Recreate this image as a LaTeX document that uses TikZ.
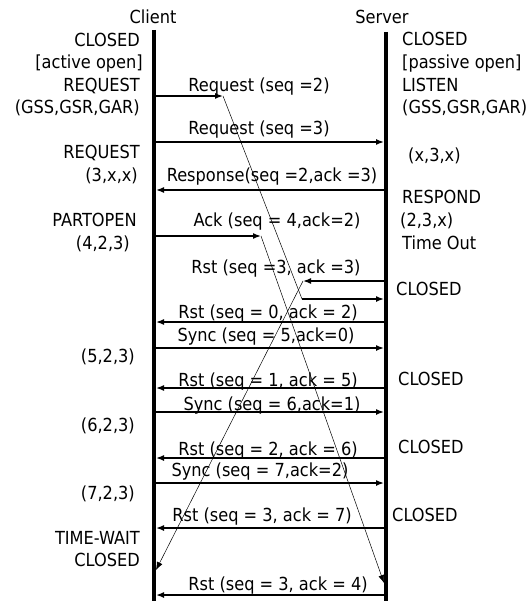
\documentclass[tikz,border=0pt]{standalone}
\usepackage{fontspec}
\setmainfont{DejaVu Sans Condensed}
\usetikzlibrary{arrows.meta}
\begin{document}
\begin{tikzpicture}[x=1pt,y=-1pt,font=\fontsize{18}{22}\selectfont,
  life/.style={line width=4pt},
  msg/.style={line width=1.5pt,-{Latex[length=8pt,width=6pt]}},
  late/.style={line width=0.5pt},
  latearr/.style={line width=0.5pt,-{Latex[length=8pt,width=6pt]}},
  lst/.style={anchor=base east,inner sep=0pt},
  rst/.style={anchor=base west,inner sep=0pt},
  ml/.style={anchor=base,inner sep=0pt}]
\useasboundingbox (0,0) rectangle (530,601);
% titles
\node[ml] (client) at (153,23.5) {Client};
\node[ml] (server) at (382,23.5) {Server};
% lifelines
\coordinate (ctop) at (154,30);
\coordinate (cbot) at (154,603);
\coordinate (stop) at (386,32);
\coordinate (sbot) at (386,603);
\draw[life] (ctop) -- (cbot);
\draw[life] (stop) -- (sbot);
% client states
\node[lst] (l1) at (140,46.5) {CLOSED};
\node[lst] (l2) at (143,69) {[active open]};
\node[lst] (l3) at (140,91.7) {REQUEST};
\node[lst] (l4) at (140,114) {(GSS,GSR,GAR)};
\node[lst] (l5) at (140,158.3) {REQUEST};
\node[lst] (l6) at (138,181.7) {(3,x,x)};
\node[lst] (l7) at (137,226.7) {PARTOPEN};
\node[lst] (l8) at (130,249) {(4,2,3)};
\node[lst] (l9) at (135,362.7) {(5,2,3)};
\node[lst] (l10) at (135,431.7) {(6,2,3)};
\node[lst] (l11) at (135,499) {(7,2,3)};
\node[lst] (l12) at (140,544) {TIME-WAIT};
\node[lst] (l13) at (140,566.7) {CLOSED};
% server states
\node[rst] (r1) at (402,45.7) {CLOSED};
\node[rst] (r2) at (402,68.5) {[passive open]};
\node[rst] (r3) at (402,91.7) {LISTEN};
\node[rst] (r4) at (402,114) {(GSS,GSR,GAR)};
\node[rst] (r5) at (408,161.7) {(x,3,x)};
\node[rst] (r6) at (402,204) {RESPOND};
\node[rst] (r7) at (400,226.7) {(2,3,x)};
\node[rst] (r8) at (402,249.3) {Time Out};
\node[rst] (r9) at (396,295) {CLOSED};
\node[rst] (r10) at (398,385) {CLOSED};
\node[rst] (r11) at (398,453.3) {CLOSED};
\node[rst] (r12) at (392,521.7) {CLOSED};
% message end points
\coordinate (c96) at (156,96);   \coordinate (k96) at (223,96);
\coordinate (c142) at (156,142); \coordinate (s142) at (384,142);
\coordinate (c190) at (156,190); \coordinate (s190) at (384,190);
\coordinate (c236) at (156,236); \coordinate (k236) at (261,236);
\coordinate (s281) at (384,281); \coordinate (k281) at (303,281);
\coordinate (k299) at (302,299); \coordinate (s299) at (384,299);
\coordinate (c322) at (156,322); \coordinate (s322) at (384,322);
\coordinate (c348) at (156,348); \coordinate (s348) at (384,348);
\coordinate (c388) at (156,388); \coordinate (s388) at (384,388);
\coordinate (c412) at (156,412); \coordinate (s412) at (384,412);
\coordinate (c458) at (156,458); \coordinate (s458) at (384,458);
\coordinate (c483) at (156,483); \coordinate (s483) at (384,483);
\coordinate (c528) at (156,528); \coordinate (s528) at (384,528);
\coordinate (c570) at (156,570);
\coordinate (s583) at (384,583);
\coordinate (c595) at (156,595); \coordinate (s595) at (384,595);
% messages
\draw[msg] (c96) -- (k96);
\draw[msg] (c142) -- (s142);
\draw[msg] (s190) -- (c190);
\draw[msg] (c236) -- (k236);
\draw[msg] (s281) -- (k281);
\draw[late] (k96) -- (k299);
\draw[msg] (k299) -- (s299);
\draw[latearr] (k236) -- (s583);
\draw[latearr] (k281) -- (c570);
\draw[msg] (s322) -- (c322);
\draw[msg] (c348) -- (s348);
\draw[msg] (s388) -- (c388);
\draw[msg] (c412) -- (s412);
\draw[msg] (s458) -- (c458);
\draw[msg] (c483) -- (s483);
\draw[msg] (s528) -- (c528);
\draw[msg] (s595) -- (c595);
% message labels
\node[ml] (m1) at (259,92) {Request (seq =2)};
\node[ml] (m2) at (259,135) {Request (seq =3)};
\node[ml] (m3) at (272,181.7) {Response(seq =2,ack =3)};
\node[ml] (m4) at (277,226.7) {Ack (seq = 4,ack=2)};
\node[ml] (m5) at (276,273.3) {Rst (seq =3, ack =3)};
\node[ml] (m6) at (268,318.3) {Rst (seq = 0, ack = 2)};
\node[ml] (m7) at (266,341.7) {Sync (seq = 5,ack=0)};
\node[ml] (m8) at (268,386) {Rst (seq = 1, ack = 5)};
\node[ml] (m9) at (272,410) {Sync (seq = 6,ack=1)};
\node[ml] (m10) at (268,455) {Rst (seq = 2, ack = 6)};
\node[ml] (m11) at (260,476.7) {Sync (seq = 7,ack=2)};
\node[ml] (m12) at (262,521.7) {Rst (seq = 3, ack = 7)};
\node[ml] (m13) at (278,590) {Rst (seq = 3, ack = 4)};
\end{tikzpicture}
\end{document}
